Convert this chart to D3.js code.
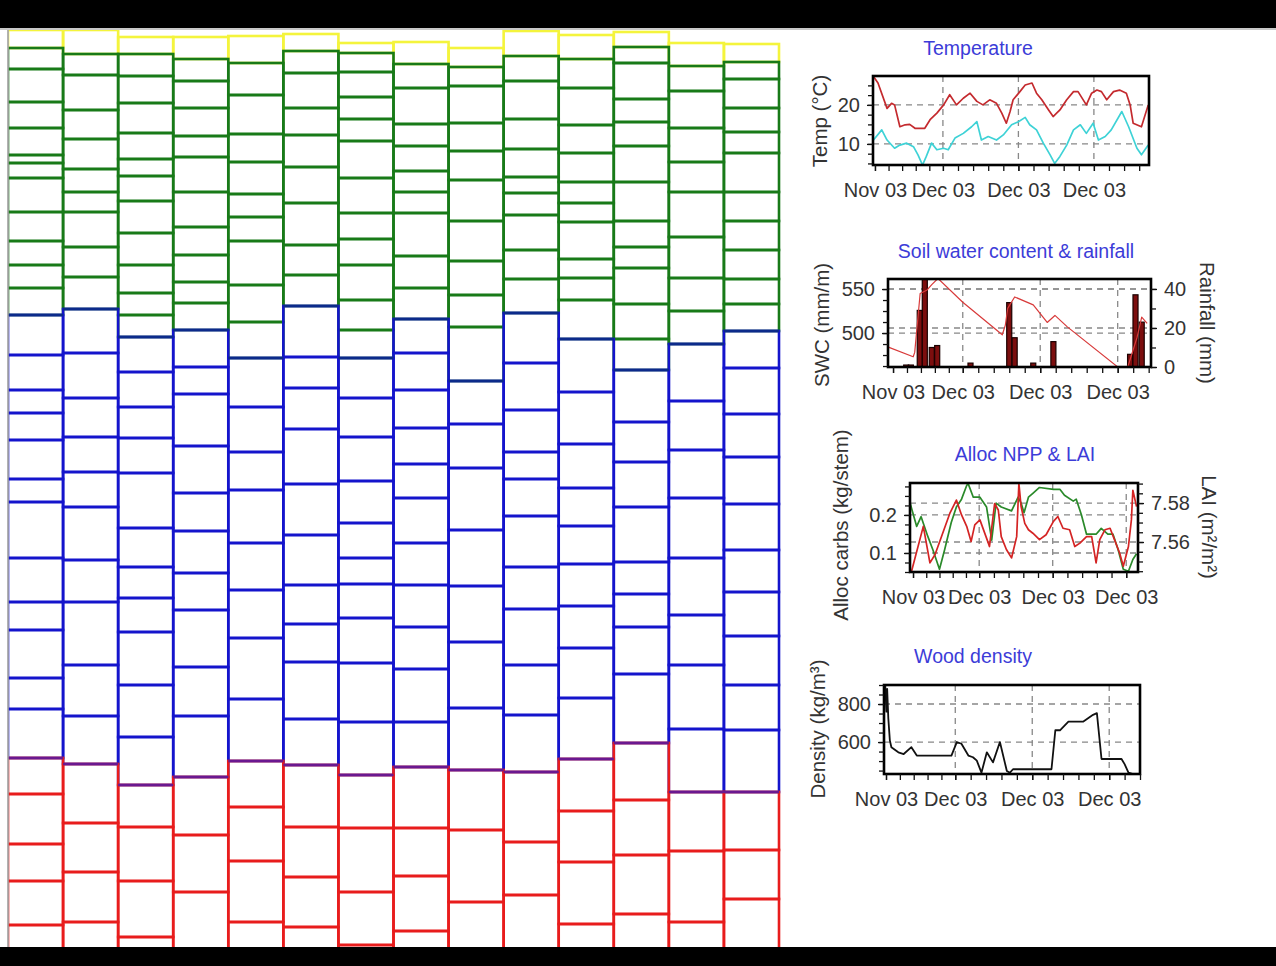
<!DOCTYPE html>
<html>
<head>
<meta charset="utf-8">
<script src="https://cdn.jsdelivr.net/npm/d3@7"></script>
<style>
  body { margin: 0; background: #fff; }
  svg { display: block; }
</style>
</head>
<body>
<svg id="chart" width="1276" height="966"></svg>
<script>
// ---- cell files: wall positions (distance from cambium) per radial file ----
const dividing = [[0,18],[0,24],[7,24],[7,29],[6,33],[4,21],[13,23],[12,34],[18,37],[1,26],[5,29],[2,17],[13,36],[14,32]];

const enlarging = [
  [18,39,72,98,125,133,148,182,211,235,258,285],
  [24,45,80,109,139,162,182,217,247,279],
  [24,46,73,103,129,146,171,203,235,263,285,307],
  [29,51,78,106,127,162,197,225,252,273,300],
  [33,65,104,132,164,187,211,255,292,328],
  [21,43,78,105,137,173,215,245,276],
  [23,42,67,89,111,148,183,209,235,270,300,328],
  [34,58,94,116,141,162,183,226,258,289],
  [37,56,93,121,150,191,231,265,297,351],
  [26,51,89,119,147,163,185,220,249,283],
  [29,58,95,123,152,173,192,229,248,270,309],
  [17,33,69,92,116,152,191,217,238,274,309,340],
  [36,61,98,132,162,207,248,281,314],
  [32,49,78,102,123,162,191,220,249,274,301]
];

const thickening = [
  [285,325,360,383,410,449,472,528,572,600,648,679,728],
  [279,323,368,407,442,477,530,572,635,686,734],
  [307,342,377,408,443,498,537,568,602,655,707,755],
  [300,337,364,416,463,501,543,580,637,686,747],
  [328,377,422,460,513,560,608,669,731],
  [276,327,358,399,454,505,555,594,632,689,735],
  [328,368,407,451,493,528,554,588,633,692,745],
  [289,323,360,398,434,468,513,555,597,639,692,737],
  [351,394,438,500,556,612,678,740],
  [283,333,380,422,449,486,537,579,635,685,742],
  [309,362,414,458,496,534,576,618,668,729],
  [340,392,432,477,532,564,597,644,713],
  [314,371,420,468,528,585,635,699,762],
  [301,338,384,427,474,520,562,606,655,700,762]
];

const mature = [
  [728,764,814,851,895,930],
  [734,793,842,892,930],
  [755,797,851,907,930],
  [747,805,862,930],
  [731,777,831,892,930],
  [735,797,847,897,930],
  [745,798,862,915,930],
  [737,798,846,901,930],
  [740,800,872,930],
  [742,812,865,930],
  [729,781,832,894,930],
  [713,770,825,884,930],
  [762,821,892,930],
  [762,820,869,930]
];

// ---- climate / growth series (day since first tick, value) ----
const tickDays = [0, 9, 19, 29];
const tickLabels = ['Nov 03', 'Dec 03', 'Dec 03', 'Dec 03'];

const tempMax = [[-0.2,27.3],[0.4,25.6],[1.6,19.1],[2.2,20.4],[2.6,20],[3.3,14.4],[4.0,14.9],[4.6,15.0],[5.3,14.0],[6.6,14.0],[7.3,16.2],[8.2,17.9],[9.1,20],[9.9,22.6],[10.8,20],[11.7,21.7],[12.6,23.0],[13.5,20.9],[14.3,20],[15.2,21.3],[16.1,20.4],[16.8,17.9],[17.4,15.3],[17.9,18.3],[18.3,21.3],[19.2,23.4],[19.9,25.1],[20.8,25.6],[21.4,23.0],[22.1,21.3],[23.0,18.7],[23.6,17.0],[24.5,18.7],[25.4,21.3],[26.3,23.4],[26.9,23.4],[28.0,20],[28.7,23.0],[29.4,23.8],[30.0,23.4],[30.7,21.3],[31.6,23.4],[32.4,23.8],[33.3,23.0],[33.8,20],[34.2,15.3],[35.3,14.4],[36.2,20]];
const tempMin = [[-0.2,11.0],[0.9,13.6],[1.6,11.0],[2.6,8.9],[3.3,9.7],[4.2,10.2],[5.1,9.3],[5.7,7.2],[6.3,4.6],[6.8,6.8],[7.5,10.2],[8.2,8.5],[9.1,8.9],[9.7,8.5],[10.6,11.5],[11.7,12.7],[12.8,14.4],[13.5,15.7],[14.1,11.0],[15.0,11.9],[16.1,11.0],[17.0,12.3],[18.1,14.9],[19.0,15.7],[19.9,16.8],[20.5,14.9],[21.4,13.6],[22.3,10.2],[23.2,7.2],[23.8,5.0],[24.5,6.8],[25.4,9.7],[26.3,13.6],[27.2,14.9],[28.0,12.7],[28.9,15.3],[29.6,11.0],[30.5,11.9],[31.3,13.6],[32.7,18.3],[33.6,14.4],[34.7,8.9],[35.3,7.2],[36.2,9.7]];

const swc = [[-0.6,484],[2.6,473],[2.8,478],[3.5,545],[4.4,549],[5.0,555],[5.8,562],[9.0,535],[14.1,498],[14.5,509],[14.8,528],[15.7,541],[18.1,532],[19.9,512],[20.9,520],[22.5,507],[29.0,461.5],[30.3,461.5],[31.0,481],[31.5,495],[32.1,518],[32.8,511]];
const rain = [[1.7,1],[2.3,1],[3.45,29],[4.1,47],[5.0,10],[5.7,11],[10.0,2],[15.0,33],[15.7,15],[18.1,2],[20.7,13],[30.6,6.5],[31.3,37],[32.1,23]];

const allocCarbs = [[-0.2,0.052],[1.4,0.170],[2.3,0.074],[3.0,0.096],[5.0,0.204],[5.9,0.239],[6.6,0.200],[7.3,0.170],[7.9,0.130],[8.4,0.174],[9.1,0.187],[10.0,0.139],[10.4,0.117],[11.1,0.230],[11.6,0.213],[12.0,0.143],[12.7,0.109],[13.4,0.087],[14.1,0.143],[14.4,0.283],[14.7,0.222],[15.2,0.178],[15.7,0.161],[16.3,0.152],[17.2,0.135],[18.1,0.148],[19.1,0.183],[19.7,0.196],[20.4,0.165],[21.3,0.161],[22.0,0.117],[22.7,0.126],[23.6,0.143],[24.3,0.143],[24.9,0.074],[25.4,0.135],[26.1,0.161],[26.8,0.165],[27.4,0.135],[28.1,0.100],[28.6,0.065],[29.3,0.117],[29.7,0.187],[29.9,0.265],[30.4,0.222]];
const lai = [[-0.4,7.580],[0.5,7.568],[1.1,7.573],[2.0,7.563],[2.7,7.556],[3.6,7.546],[4.3,7.556],[5.2,7.570],[5.9,7.578],[6.6,7.582],[7.3,7.589],[7.5,7.590],[8.2,7.583],[9.1,7.583],[10.0,7.578],[10.7,7.561],[11.3,7.580],[12.0,7.578],[13.4,7.576],[14.3,7.583],[14.7,7.580],[15.1,7.575],[15.7,7.583],[16.3,7.585],[17.2,7.588],[19.1,7.587],[20.0,7.587],[20.6,7.584],[21.8,7.581],[22.2,7.582],[22.9,7.574],[23.6,7.564],[24.9,7.564],[25.6,7.567],[26.5,7.564],[27.2,7.564],[27.9,7.556],[28.6,7.546],[29.3,7.545],[29.9,7.551],[30.4,7.554]];

const density = [[-0.2,860],[-0.1,900],[0.05,760],[0.15,880],[0.3,725],[0.5,609],[0.7,573],[1.6,546],[2.3,537],[3.3,573],[4.0,529],[8.5,529],[9.2,600],[9.8,591],[10.7,529],[11.3,520],[11.8,502],[12.4,439],[13.1,546],[13.9,493],[14.8,600],[15.7,448],[16.1,439],[16.5,457],[21.5,457],[22.0,662],[22.6,662],[23.7,707],[25.6,707],[26.9,743],[27.4,752],[28.0,511],[30.6,511],[31.0,484],[31.5,439],[32.1,432]];

const FONT = '"Liberation Sans", Arial, sans-serif';
let svg = d3.select('#chart');

// ================= cell file panel =================
let xFile = d3.scaleBand().domain(d3.range(14)).range([8, 779]);
let yPos = d3.scaleLinear().domain([0, 920]).range([30, 950]);

svg.append('clipPath').attr('id', 'cell-clip')
  .append('rect').attr('x', 8.5).attr('y', 29).attr('width', 775).attr('height', 930);

let phases = [
  { walls: dividing, color: '#f4f43c' },
  { walls: enlarging, color: '#187a18' },
  { walls: thickening, color: '#1414cc' },
  { walls: mature, color: '#e81c1c' }
];

let cellG = svg.append('g').attr('clip-path', 'url(#cell-clip)');

phases.forEach(p => {
  let cells = [];
  p.walls.forEach((w, f) => {
    for (let i = 0; i < w.length - 1; i++) {
      cells.push({ file: f, top: w[i], bottom: w[i + 1] });
    }
  });
  cellG.append('g').selectAll('rect')
    .data(cells)
    .enter()
    .append('rect')
    .attr('x', d => xFile(d.file))
    .attr('y', d => yPos(d.top))
    .attr('width', xFile.bandwidth())
    .attr('height', d => yPos(d.bottom) - yPos(d.top))
    .attr('fill', 'none')
    .attr('stroke', p.color)
    .attr('stroke-width', 2.6);
});

// transitions between phases
let transitions = [
  { walls: thickening, color: '#0c2a8a' },
  { walls: mature, color: '#6a1890' }
];
transitions.forEach(t => {
  cellG.append('g').selectAll('line')
    .data(t.walls.map((w, f) => ({ file: f, pos: w[0] })))
    .enter()
    .append('line')
    .attr('x1', d => xFile(d.file))
    .attr('x2', d => xFile(d.file) + xFile.bandwidth())
    .attr('y1', d => yPos(d.pos))
    .attr('y2', d => yPos(d.pos))
    .attr('stroke', t.color)
    .attr('stroke-width', 2.6);
});

svg.append('line').attr('x1', 8).attr('x2', 8).attr('y1', 28).attr('y2', 948)
  .attr('stroke', '#999').attr('stroke-width', 1.5);

// frame bars
svg.append('rect').attr('x', 0).attr('y', 0).attr('width', 1276).attr('height', 28).attr('fill', '#000');
svg.append('rect').attr('x', 0).attr('y', 28).attr('width', 1276).attr('height', 2).attr('fill', '#c8c8c8');
svg.append('rect').attr('x', 0).attr('y', 947).attr('width', 1276).attr('height', 19).attr('fill', '#000');

// ================= small panels =================
function minorX(domain) {
  let t = [];
  for (let i = 0; i < tickDays.length - 1; i++) {
    let a = tickDays[i], b = tickDays[i + 1];
    for (let k = 0; k < 5; k++) t.push(a + (b - a) * k / 5);
  }
  for (let d = tickDays[tickDays.length - 1]; d <= domain[1]; d += 2) t.push(d);
  return t.filter(d => d >= domain[0] && d <= domain[1]);
}

function minorY(domain, step) {
  let t = [];
  for (let v = Math.ceil(domain[0] / step) * step; v <= domain[1] + 1e-9; v += step) t.push(v);
  return t;
}

function styleAxis(g) {
  g.attr('font-family', FONT).attr('font-size', 20);
  g.select('.domain').remove();
  g.selectAll('line').attr('stroke', '#111').attr('stroke-width', 1.3);
  g.selectAll('text').attr('fill', '#333');
}

function drawPanel(p) {
  let [L, R, T, B] = p.box;
  let g = svg.append('g');
  let x = d3.scaleLinear().domain(p.xDomain).range([L, R]);
  let y = d3.scaleLinear().domain(p.yDomain).range([B, T]);
  let y2 = p.y2Domain ? d3.scaleLinear().domain(p.y2Domain).range([B, T]) : null;

  svg.append('clipPath').attr('id', 'clip-' + p.id)
    .append('rect').attr('x', L).attr('y', T).attr('width', R - L).attr('height', B - T);

  // grid
  let grid = g.append('g').attr('stroke', '#888').attr('stroke-width', 1.3).attr('stroke-dasharray', '6,5');
  grid.selectAll('.gv').data(tickDays.slice(1)).enter().append('line').attr('class', 'gv')
    .attr('x1', d => x(d)).attr('x2', d => x(d)).attr('y1', T).attr('y2', B);
  grid.selectAll('.gh').data(p.yTicks).enter().append('line').attr('class', 'gh')
    .attr('x1', L).attr('x2', R).attr('y1', d => y(d)).attr('y2', d => y(d));
  if (y2) {
    grid.selectAll('.gh2').data(p.y2Ticks).enter().append('line').attr('class', 'gh2')
      .attr('x1', L).attr('x2', R).attr('y1', d => y2(d)).attr('y2', d => y2(d));
  }

  // data
  let dataG = g.append('g').attr('clip-path', 'url(#clip-' + p.id + ')');
  p.draw(dataG, x, y, y2);

  // frame
  g.append('rect').attr('x', L).attr('y', T).attr('width', R - L).attr('height', B - T)
    .attr('fill', 'none').attr('stroke', '#000').attr('stroke-width', 2.6);

  // x axis
  g.append('g').attr('transform', `translate(0,${B})`)
    .call(d3.axisBottom(x).tickValues(minorX(p.xDomain)).tickSize(6).tickFormat(''))
    .call(styleAxis);
  g.append('g').attr('transform', `translate(0,${B})`)
    .call(d3.axisBottom(x).tickValues(tickDays).tickSize(6).tickPadding(12).tickFormat((d, i) => tickLabels[i]))
    .call(styleAxis);

  // y axis left
  g.append('g').attr('transform', `translate(${L},0)`)
    .call(d3.axisLeft(y).tickValues(minorY(p.yDomain, p.yMinor)).tickSize(5).tickFormat(''))
    .call(styleAxis);
  g.append('g').attr('transform', `translate(${L},0)`)
    .call(d3.axisLeft(y).tickValues(p.yTicks).tickSize(6).tickPadding(7).tickFormat(p.yFormat))
    .call(styleAxis);

  if (y2) {
    g.append('g').attr('transform', `translate(${R},0)`)
      .call(d3.axisRight(y2).tickValues(minorY(p.y2Domain, p.y2Minor)).tickSize(5).tickFormat(''))
      .call(styleAxis);
    g.append('g').attr('transform', `translate(${R},0)`)
      .call(d3.axisRight(y2).tickValues(p.y2Ticks).tickSize(6).tickPadding(7).tickFormat(p.y2Format))
      .call(styleAxis);
  }

  // titles
  g.append('text').attr('x', p.title[1]).attr('y', p.title[2])
    .attr('text-anchor', 'middle').attr('dominant-baseline', 'middle')
    .attr('font-family', FONT).attr('font-size', 19.5).attr('fill', '#3c3cd8')
    .text(p.title[0]);
  g.append('text')
    .attr('transform', `translate(${p.yTitle[1]},${p.yTitle[2]}) rotate(-90)`)
    .attr('text-anchor', 'middle').attr('dominant-baseline', 'middle')
    .attr('font-family', FONT).attr('font-size', 20.5).attr('fill', '#333')
    .text(p.yTitle[0]);
  if (p.y2Title) {
    g.append('text')
      .attr('transform', `translate(${p.y2Title[1]},${p.y2Title[2]}) rotate(90)`)
      .attr('text-anchor', 'middle').attr('dominant-baseline', 'middle')
      .attr('font-family', FONT).attr('font-size', 20.5).attr('fill', '#333')
      .text(p.y2Title[0]);
  }
}

function pathLine(g, data, x, y, color, width) {
  g.append('path')
    .datum(data)
    .attr('fill', 'none')
    .attr('stroke', color)
    .attr('stroke-width', width)
    .attr('stroke-linejoin', 'round')
    .attr('d', d3.line().x(d => x(d[0])).y(d => y(d[1])));
}

drawPanel({
  id: 'temp', box: [873, 1149, 76, 165],
  xDomain: [-0.26, 36.3], yDomain: [4.6, 27.4],
  yTicks: [10, 20], yMinor: 2.5, yFormat: d3.format('d'),
  title: ['Temperature', 978, 50], yTitle: ['Temp (°C)', 822, 121],
  draw: (g, x, y) => {
    pathLine(g, tempMax, x, y, '#c42a2e', 1.7);
    pathLine(g, tempMin, x, y, '#3ed2d6', 1.7);
  }
});

drawPanel({
  id: 'swc', box: [888, 1151, 279, 367],
  xDomain: [-0.65, 33.3], yDomain: [461.4, 561.4],
  yTicks: [500, 550], yMinor: 12.5, yFormat: d3.format('d'),
  y2Domain: [0, 45.1], y2Ticks: [0, 20, 40], y2Minor: 10, y2Format: d3.format('d'),
  title: ['Soil water content & rainfall', 1016, 253],
  yTitle: ['SWC (mm/m)', 824, 325], y2Title: ['Rainfall (mm)', 1205, 323],
  draw: (g, x, y, y2) => {
    let bw = x(0.65) - x(0);
    g.selectAll('.bar').data(rain).enter().append('rect').attr('class', 'bar')
      .attr('x', d => x(d[0]) - bw / 2)
      .attr('y', d => y2(d[1]))
      .attr('width', bw)
      .attr('height', d => y2(0) - y2(d[1]))
      .attr('fill', '#7c0e0e')
      .attr('stroke', '#1a0000')
      .attr('stroke-width', 1.2);
    pathLine(g, swc, x, y, '#d83a3a', 1.2);
  }
});

drawPanel({
  id: 'npp', box: [910, 1138, 483, 572],
  xDomain: [-0.41, 30.6], yDomain: [0.05, 0.284],
  yTicks: [0.1, 0.2], yMinor: 0.025, yFormat: d3.format('.1f'),
  y2Domain: [7.5446, 7.5903], y2Ticks: [7.56, 7.58], y2Minor: 0.005, y2Format: d3.format('.2f'),
  title: ['Alloc NPP & LAI', 1025, 456],
  yTitle: ['Alloc carbs (kg/stem)', 843, 525], y2Title: ['LAI (m²/m²)', 1207, 527],
  draw: (g, x, y, y2) => {
    pathLine(g, lai, x, y2, '#2a8a2a', 1.7);
    pathLine(g, allocCarbs, x, y, '#d42424', 1.7);
  }
});

drawPanel({
  id: 'dens', box: [884, 1140, 685, 774],
  xDomain: [-0.26, 33.0], yDomain: [432, 900],
  yTicks: [600, 800], yMinor: 50, yFormat: d3.format('d'),
  title: ['Wood density', 973, 658], yTitle: ['Density (kg/m³)', 820, 729],
  draw: (g, x, y) => {
    pathLine(g, density, x, y, '#111', 1.8);
  }
});
</script>
</body>
</html>
